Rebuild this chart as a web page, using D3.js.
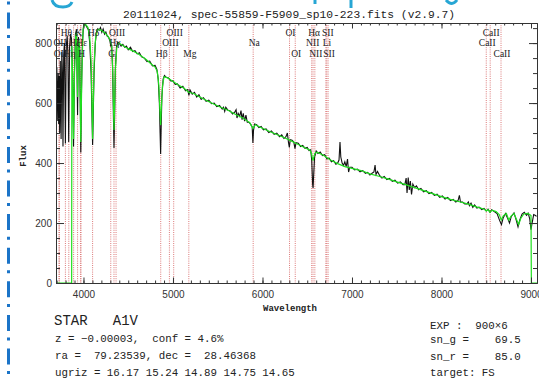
<!DOCTYPE html>
<html>
<head>
<meta charset="utf-8">
<script src="https://cdn.jsdelivr.net/npm/d3@7"></script>
<style>
body { margin: 0; background: #fff; }
svg { display: block; }
</style>
</head>
<body>
<div id="chart"></div>
<script>
// observed spectrum (black)
const specWave = [3695,3702,3708,3713,3718,3723,3728,3734,3741,3750,3758,3765,3771,3779,3787,3798,3808,3818,3826,3835,3845,3856,3866,3878,3889,3899,3910,3922,3934,3944,3955,3962,3970,3978,3988,4000,4012,4025,4040,4055,4070,4085,4096,4102,4108,4118,4132,4145,4160,
  4175,4190,4205,4220,4235,4250,4265,4280,4295,4305,4315,4325,4334,4341,4348,4357,4370,4385,4400,4420,4440,4460,4480,4500,4525,4550,4575,4600,4625,4650,4680,4710,4740,4770,4800,4820,4835,4848,4856,4862,4868,4876,4890,4905,4925,4950,4975,5000,5025,5050,5080,5110,5140,5165,5178,5190,5215,5240,5265,5290,5315,5340,5370,5400,5430,5460,5490,5520,5550,5565,5578,5590,5615,5640,5665,5690,5705,5715,5728,5745,5760,5772,5785,5800,5815,5830,5850,5870,5885,5893,5900,5912,5935,5960,5985,6010,6040,6070,6100,6130,6160,6190,6215,6240,6262,6278,6290,6300,6310,6330,6350,6363,6375,6400,6425,6450,6475,6500,6520,6538,6550,6560,6565,6572,6582,6600,6620,6645,6670,6695,6720,6745,6770,6795,6820,6840,6855,6866,6875,6890,6905,6920,6935,6950,6962,6975,7000,7030,7060,7090,7120,7150,7175,7200,7220,7245,7258,7268,7285,7310,7335,7360,7390,7420,7450,7480,7510,7540,7570,7590,7605,7615,7628,7640,7652,7665,7680,7700,7720,7745,7770,7800,7830,7860,7890,7920,7950,7980,8010,8040,8070,8100,8130,8160,8185,8200,8212,8235,8260,8285,8300,8312,8330,8350,8370,8395,8420,8450,8475,8500,8520,8542,8560,8590,8620,8650,8670,8690,8715,8740,8760,8780,8810,8835,8855,8875,8900,8925,8950,8968,8985,9000,9012,9030,9050,9062];
const specFlux = [650,720,610,540,700,530,690,500,740,480,770,700,455,760,800,465,790,825,760,470,790,830,815,700,455,700,830,845,560,820,780,640,435,640,800,855,866,860,852,845,800,700,540,460,540,700,800,835,848,
  843,852,836,847,830,837,823,820,808,790,792,720,560,450,560,720,790,803,800,790,796,786,790,778,786,772,775,764,768,754,750,738,740,724,726,712,680,600,500,430,520,620,680,692,686,684,674,674,662,664,650,656,641,645,626,644,630,636,620,628,612,618,606,610,598,600,588,592,580,586,572,586,576,574,564,570,578,550,566,556,575,545,566,540,560,536,536,528,520,467,510,530,528,518,522,511,514,502,507,496,500,488,494,482,488,500,470,452,478,476,470,448,468,466,455,459,449,452,442,444,410,330,317,360,420,440,432,437,425,428,414,416,404,408,396,400,410,470,420,400,392,404,388,413,370,386,386,377,380,371,375,366,369,360,365,370,393,362,372,358,350,355,345,349,339,343,333,337,328,328,350,300,352,310,340,295,330,318,324,311,315,304,308,298,302,292,296,286,290,280,285,275,279,270,275,292,270,270,264,264,270,258,266,252,260,250,253,245,249,240,246,236,244,238,232,208,195,218,232,215,200,222,234,210,187,210,230,236,226,233,215,178,200,228,225,222];

// model fit (green)
const modelWave = [3693,3868,3870,3878,3889,3900,3912,3922,3934,3945,3956,3970,3982,3995,4010,4030,4050,4070,4085,4096,4102,4108,4120,4135,4155,4180,4210,4240,4270,4295,4315,4328,4336,4341,4347,4356,4372,4395,4430,4470,4510,4550,4600,4650,4700,4750,4800,4825,4842,4853,4862,4871,4882,4900,4940,5000,5060,5120,5175,5230,5300,5380,5460,5540,5620,5700,5780,5860,5893,5920,6000,6080,6160,6240,6320,6400,6480,6530,6548,6558,6565,6572,6585,6610,6680,6760,6840,6920,7000,7100,7200,7300,7400,7500,7600,7700,7800,7900,8000,8100,8200,8300,8400,8480,8500,8520,8542,8565,8610,8645,8668,8690,8725,8752,8775,8810,8838,8862,8885,8920,8960,8985,9000,9004,9067];
const modelFlux = [0,0,790,700,480,700,820,835,620,810,790,470,700,845,862,860,852,820,740,580,480,580,740,815,845,846,840,834,824,812,790,700,580,510,580,710,785,800,794,786,780,774,766,756,745,732,720,705,660,580,527,590,655,688,684,672,660,650,636,632,620,608,596,585,575,562,550,534,515,528,516,505,495,485,474,462,450,443,432,415,408,418,432,436,426,410,398,388,382,375,364,356,347,337,328,318,308,298,288,279,271,263,253,246,240,245,236,243,238,228,210,224,232,210,222,232,212,195,215,230,232,228,225,0,0];

// line markers
const lineWave = [3727,3730,3798,3836,3890,3934,3969,3971,4102,4305,4341,4364,4863,4960,5008,5177,5896,6302,6366,6550,6565,6585,6708,6718,6733,8500,8544,8665];
const lineName = ["OII","OII","Hθ","Hη","Hζ","K","H","Hε","Hδ","G","Hγ","OIII","Hβ","OIII","OIII","Mg","Na","OI","OI","NII","Hα","NII","Li","SII","SII","CaII","CaII","CaII"];
const lineRow  = [2,3,1,3,2,1,3,2,1,3,2,1,3,2,1,3,2,1,3,2,1,3,2,1,3,2,1,3];

const xTicks = [4000,5000,6000,7000,8000,9000];
const yTicks = [0,200,400,600,800];

const title = "20111024, spec-55859-F5909_sp10-223.fits (v2.9.7)";
const infoLeft = ["z = \u22120.00003,  conf = 4.6%", "ra =  79.23539, dec =  28.46368", "ugriz = 16.17 15.24 14.89 14.75 14.65"];
const infoRight = ["EXP :  900\u00d76", "sn_g =    69.5", "sn_r =    85.0", "target: FS"];

const w = 539, h = 378;
const pL = 56, pR = 537, pT = 23, pB = 283;

const svg = d3.select("#chart").append("svg")
    .attr("width", w)
    .attr("height", h);

const x = d3.scaleLinear().domain([3693, 9067]).range([pL, pR]);
const y = d3.scaleLinear().domain([0, 867]).range([pB, pT]);

svg.append("clipPath").attr("id", "plotclip")
  .append("rect")
    .attr("x", pL).attr("y", pT)
    .attr("width", pR - pL).attr("height", pB - pT);

// blue dash-dot decoration on the left
svg.append("line")
    .attr("x1", 8.5).attr("x2", 8.5)
    .attr("y1", 1.5).attr("y2", h)
    .attr("stroke", "#1b74c8")
    .attr("stroke-width", 3)
    .attr("stroke-dasharray", "3,8,16,6.6");

// bits of the slide heading cut off at the top
const cyan = svg.append("g")
    .attr("fill", "none")
    .attr("stroke", "#27a6d4")
    .attr("stroke-width", 3);
cyan.append("path").attr("d", "M52,0 Q54,7 63,7 Q70,7 72,2");
cyan.append("path").attr("d", "M315,0 L315,4");
cyan.append("path").attr("d", "M351,0 L351,8");
cyan.append("path").attr("d", "M446,0 Q452,7 457,0");

// line markers
const plot = svg.append("g").attr("clip-path", "url(#plotclip)");
plot.selectAll("line.marker")
  .data(lineWave)
  .enter()
  .append("line")
    .attr("class", "marker")
    .attr("x1", d => x(d)).attr("x2", d => x(d))
    .attr("y1", pT).attr("y2", pB)
    .attr("stroke", "#d86a6a")
    .attr("stroke-width", 0.9)
    .attr("stroke-dasharray", "1,1.2");

const spec = specWave.map((d, i) => [d, specFlux[i]]);
const model = modelWave.map((d, i) => [d, modelFlux[i]]);
const line = d3.line().x(d => x(d[0])).y(d => y(d[1]));

plot.append("path")
    .attr("d", line(spec))
    .attr("fill", "none")
    .attr("stroke", "#111")
    .attr("stroke-width", 1.1);

plot.append("path")
    .attr("d", line(model))
    .attr("fill", "none")
    .attr("stroke", "#1fe01f")
    .attr("stroke-width", 1.2);

// line labels
svg.selectAll("text.lbl")
  .data(lineWave)
  .enter()
  .append("text")
    .attr("class", "lbl")
    .attr("x", d => x(d) + 1)
    .attr("y", (d, i) => [0, 35.5, 46, 56.5][lineRow[i]])
    .attr("text-anchor", "middle")
    .style("font-family", "'Liberation Serif', serif")
    .style("font-size", "9.5px")
    .style("fill", "#222")
    .text((d, i) => lineName[i]);

// axes
function styleAxis(g) {
  g.select(".domain").attr("stroke", "#333");
  g.selectAll(".tick line").attr("stroke", "#333");
  g.selectAll("text")
    .style("font-family", "'Liberation Sans', sans-serif")
    .style("font-size", "10px")
    .style("fill", "#333");
}
const xMinor = d3.range(3700, 9067, 100);
const yMinor = d3.range(0, 867, 50);

svg.append("g").attr("transform", "translate(0," + pB + ")")
    .call(d3.axisBottom(x).tickValues(xMinor).tickSizeInner(-2.5).tickSizeOuter(0).tickFormat(""))
    .call(styleAxis);
svg.append("g").attr("transform", "translate(0," + pB + ")")
    .call(d3.axisBottom(x).tickValues(xTicks).tickSizeInner(-5.5).tickSizeOuter(0).tickPadding(8).tickFormat(d3.format("d")))
    .call(styleAxis);
svg.append("g").attr("transform", "translate(0," + pT + ")")
    .call(d3.axisTop(x).tickValues(xMinor).tickSizeInner(-2.5).tickSizeOuter(0).tickFormat(""))
    .call(styleAxis);
svg.append("g").attr("transform", "translate(0," + pT + ")")
    .call(d3.axisTop(x).tickValues(xTicks).tickSizeInner(-5.5).tickSizeOuter(0).tickFormat(""))
    .call(styleAxis);
svg.append("g").attr("transform", "translate(" + pL + ",0)")
    .call(d3.axisLeft(y).tickValues(yMinor).tickSizeInner(-4).tickSizeOuter(0).tickFormat(""))
    .call(styleAxis);
svg.append("g").attr("transform", "translate(" + pL + ",0)")
    .call(d3.axisLeft(y).tickValues(yTicks).tickSizeInner(-8).tickSizeOuter(0).tickPadding(4).tickFormat(d3.format("d")))
    .call(styleAxis);
svg.append("g").attr("transform", "translate(" + pR + ",0)")
    .call(d3.axisRight(y).tickValues(yMinor).tickSizeInner(-4).tickSizeOuter(0).tickFormat(""))
    .call(styleAxis);
svg.append("g").attr("transform", "translate(" + pR + ",0)")
    .call(d3.axisRight(y).tickValues(yTicks).tickSizeInner(-8).tickSizeOuter(0).tickFormat(""))
    .call(styleAxis);

// titles
svg.append("text")
    .attr("x", 289).attr("y", 18)
    .attr("text-anchor", "middle")
    .style("font-family", "'Liberation Mono', monospace")
    .style("font-size", "11.3px")
    .style("fill", "#222")
    .text(title);

svg.append("text")
    .attr("x", 290).attr("y", 311)
    .attr("text-anchor", "middle")
    .style("font-family", "'Liberation Mono', monospace")
    .style("font-weight", "bold")
    .style("font-size", "9px")
    .style("fill", "#222")
    .text("Wavelength");

svg.append("text")
    .attr("transform", "translate(26,156) rotate(-90)")
    .attr("text-anchor", "middle")
    .style("font-family", "'Liberation Mono', monospace")
    .style("font-weight", "bold")
    .style("font-size", "9px")
    .style("fill", "#222")
    .text("Flux");

// info block
svg.append("text")
    .attr("x", 54).attr("y", 325)
    .style("white-space", "pre")
    .style("font-family", "'Liberation Mono', monospace")
    .style("font-size", "14px")
    .style("fill", "#222")
    .text("STAR   A1V");

svg.selectAll("text.infoL")
  .data(infoLeft)
  .enter()
  .append("text")
    .attr("class", "infoL")
    .attr("x", 55)
    .attr("y", (d, i) => 342 + i * 17)
    .style("white-space", "pre")
    .style("font-family", "'Liberation Mono', monospace")
    .style("font-size", "10.8px")
    .style("fill", "#222")
    .text(d => d);

svg.selectAll("text.infoR")
  .data(infoRight)
  .enter()
  .append("text")
    .attr("class", "infoR")
    .attr("x", 430)
    .attr("y", (d, i) => [329, 343, 360, 376][i])
    .style("white-space", "pre")
    .style("font-family", "'Liberation Mono', monospace")
    .style("font-size", "10.8px")
    .style("fill", "#222")
    .text(d => d);
</script>
</body>
</html>
